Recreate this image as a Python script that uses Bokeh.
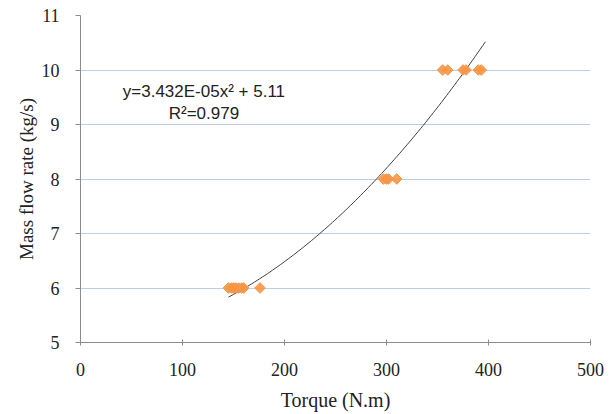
from bokeh.plotting import figure
from bokeh.embed import file_html
from bokeh.resources import INLINE
from bokeh.models import Range1d, FixedTicker
from bokeh.core.properties import value
import numpy as np

# Data
torque = [145, 148, 150, 152, 155, 158, 160, 176,
          297, 300, 302, 310,
          355, 360, 375, 378, 390, 393]
flow = [6, 6, 6, 6, 6, 6, 6, 6,
        8, 8, 8, 8,
        10, 10, 10, 10, 10, 10]
trend_coef = [3.432e-05, 0.0, 5.11]  # y = a x^2 + b x + c
trend_range = [145, 397]
eq_text = ["y=3.432E-05x² + 5.11", "R²=0.979"]
x_ticks = [0, 100, 200, 300, 400, 500]
y_ticks = [5, 6, 7, 8, 9, 10, 11]

p = figure(width=610, height=414, output_backend="svg", toolbar_location=None,
           x_range=Range1d(0, 500), y_range=Range1d(5, 11),
           min_border_left=80, min_border_right=20, min_border_top=15, min_border_bottom=72)
p.outline_line_color = None
p.background_fill_color = "white"
p.border_fill_color = "white"

# grid
p.xgrid.grid_line_color = None
p.ygrid.grid_line_color = "#b9cde5"
p.ygrid.grid_line_width = 1.2
p.yaxis.ticker = FixedTicker(ticks=y_ticks)
p.xaxis.ticker = FixedTicker(ticks=x_ticks)
p.xaxis.minor_tick_line_color = None
p.yaxis.minor_tick_line_color = None

for ax in (p.xaxis[0], p.yaxis[0]):
    ax.axis_line_color = "#8c8c8c"
    ax.major_tick_line_color = "#8c8c8c"
    ax.major_label_text_font = "Liberation Serif"
    ax.major_label_text_font_size = "18px"
    ax.major_label_text_color = "#222222"
    ax.axis_label_text_font = "Liberation Serif"
    ax.axis_label_text_font_style = "normal"
    ax.axis_label_text_color = "#222222"

p.xaxis.axis_label_text_font_size = "20px"
p.yaxis.axis_label_text_font_size = "19px"
p.xaxis.major_tick_in = 3
p.xaxis.major_tick_out = 3
p.yaxis.major_tick_in = 0
p.yaxis.major_tick_out = 5
p.xaxis.major_label_standoff = 17
p.yaxis.major_label_standoff = 16
p.xaxis.axis_label = "Torque (N.m)"
p.yaxis.axis_label = "Mass flow rate (kg/s)"
p.xaxis.axis_label_standoff = 10
p.yaxis.axis_label_standoff = 2

# trendline
xt = np.linspace(trend_range[0], trend_range[1], 100)
yt = np.polyval(trend_coef, xt)
p.line(xt, yt, line_color="#404040", line_width=1)

# points
p.scatter(torque, flow, marker="square", angle=np.pi / 4, size=7.5,
          fill_color="#f79646", line_color="#f79646", fill_alpha=0.9)

# equation text
p.text(x=[121, 121], y=[9.61, 9.2], text=eq_text, text_align="center",
       text_baseline="middle", text_font=value("Liberation Sans"),
       text_font_size="17px", text_color="#222222")

open("out.html", "w").write(file_html(p, INLINE))
